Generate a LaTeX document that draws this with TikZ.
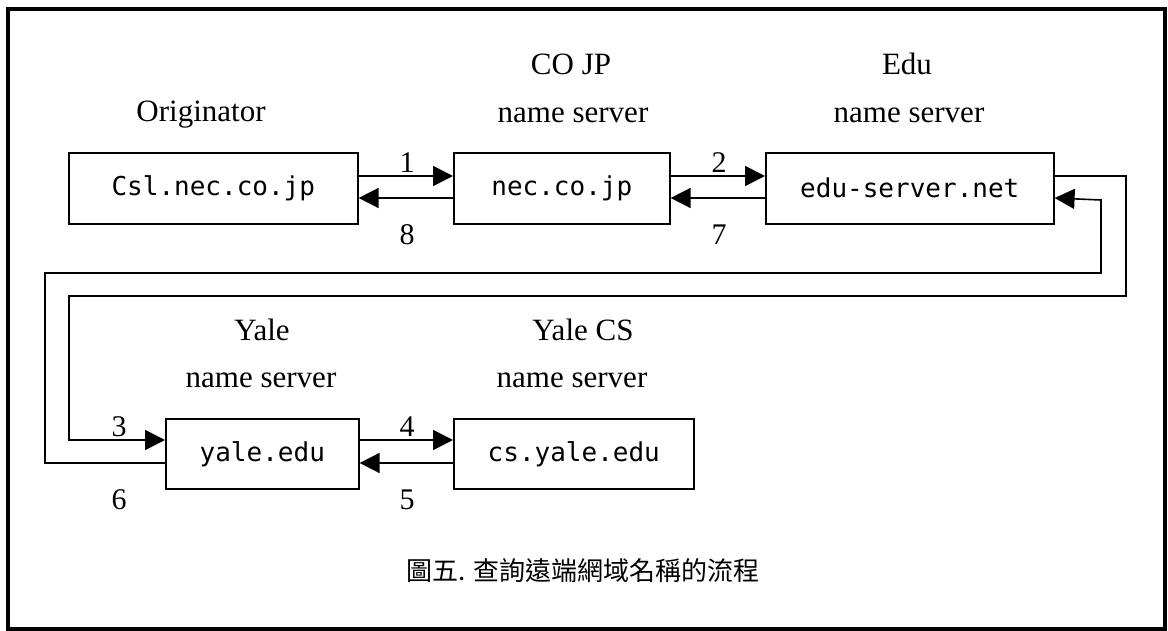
\documentclass[tikz,border=0pt]{standalone}
\usepackage{fontspec}
\setmainfont{Liberation Serif}
\newfontfamily\hostfont{DejaVu Sans Mono}
\newfontfamily\cjk{Noto Sans CJK TC}
\usetikzlibrary{arrows.meta}

\begin{document}
\begin{tikzpicture}[x=1pt, y=-1pt,
    host/.style={draw, line width=1.6pt, inner sep=0pt, anchor=north west,
      font=\hostfont\fontsize{26}{30}\selectfont},
    title/.style={anchor=base, font=\fontsize{31}{36}\selectfont},
    num/.style={anchor=base, font=\fontsize{30}{34}\selectfont},
    flow/.style={-{Triangle[length=20pt,width=20pt]}, line width=1.6pt}]
  \useasboundingbox (0,0) rectangle (1168,631);
  \draw[line width=4pt] (8,9) rectangle (1165,629);
  \def \up {24} % upper arrow, below the box top
  \def \dn {46} % lower arrow, below the box top

  % servers
  \node[host, minimum width=289pt, minimum height=71pt] (csl) at (68,152) {Csl.nec.co.jp};
  \node[host, minimum width=216pt, minimum height=71pt] (nec) at (453,152) {nec.co.jp};
  \node[host, minimum width=288pt, minimum height=71pt] (edu) at (765,152) {edu-server.net};
  \node[host, minimum width=193pt, minimum height=70pt] (yale) at (165,418) {yale.edu};
  \node[host, minimum width=240pt, minimum height=70pt] (cs) at (453,418) {cs.yale.edu};

  % titles
  \node[title] (orig) at (201,122) {Originator};
  \node[title] (cojp) at (571,75) {CO JP};
  \node[title] (cojp-ns) at (573,123) {name server};
  \node[title] (edut) at (907,75) {Edu};
  \node[title] (edu-ns) at (909,123) {name server};
  \node[title] (yalet) at (262,341) {Yale};
  \node[title] (yale-ns) at (261,387) {name server};
  \node[title] (yalecs) at (583,341) {Yale CS};
  \node[title] (yalecs-ns) at (572,387) {name server};

  % queries and answers
  \draw[flow] ([yshift=-\up pt]csl.north east) -- ([yshift=-\up pt]nec.north west);
  \draw[flow] ([yshift=-\dn pt]nec.north west) -- ([yshift=-\dn pt]csl.north east);
  \draw[flow] ([yshift=-\up pt]nec.north east) -- ([yshift=-\up pt]edu.north west);
  \draw[flow] ([yshift=-\dn pt]edu.north west) -- ([yshift=-\dn pt]nec.north east);
  \draw[flow] ([yshift=-\up pt]edu.north east) -| (1126,296) -| (69,440)
    -- ([yshift=-22pt]yale.north west);
  \draw[flow] ([yshift=-45pt]yale.north west) -| (45,273) -| (1101,200)
    -- ([yshift=-\dn pt]edu.north east);
  \draw[flow] ([yshift=-22pt]yale.north east) -- ([yshift=-22pt]cs.north west);
  \draw[flow] ([yshift=-45pt]cs.north west) -- ([yshift=-45pt]yale.north east);

  \foreach \t/\x/\y in {1/407/173, 8/407/245, 2/719/173, 7/719/245,
                         3/119/436, 6/119/509, 4/407/436, 5/407/509}
    \node[num] (step\t) at (\x,\y) {\t};

  \node[anchor=base, font=\cjk\fontsize{26}{30}\selectfont] (caption) at (583,580)
    {圖五. 查詢遠端網域名稱的流程};
\end{tikzpicture}
\end{document}
